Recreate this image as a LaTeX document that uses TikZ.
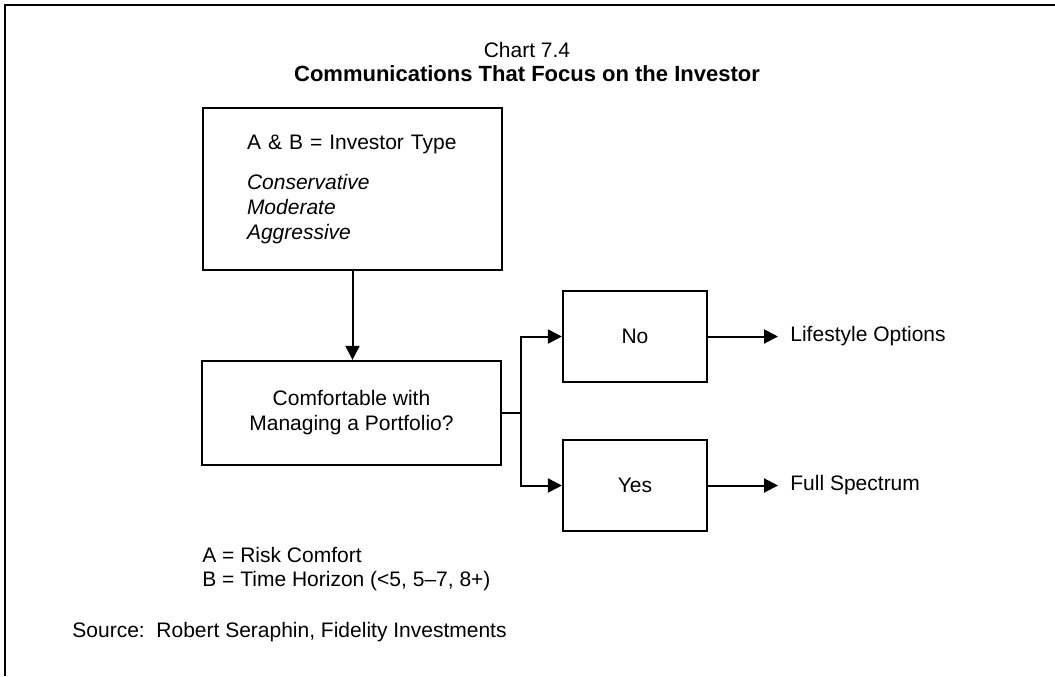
\documentclass[tikz,border=0pt]{standalone}
\usepackage{fontspec}
\setmainfont{Liberation Sans}
\usepackage{tikz}
\usetikzlibrary{arrows.meta, positioning, calc}

\begin{document}
\begin{tikzpicture}[
    x=0.5pt, y=-0.5pt,
    font=\fontsize{10.5}{12.5}\selectfont,
    box/.style={rectangle, draw=black, line width=1.1pt, fill=white, minimum width=149.5pt, align=center},
    choice/.style={rectangle, draw=black, line width=1.1pt, fill=white, minimum width=72pt, minimum height=45.5pt},
    arr/.style={-{Triangle[length=7pt, width=7pt]}, line width=1pt},
    link/.style={line width=1pt},
]

% Frame
\useasboundingbox (0,0) rectangle (1055,676);
\draw[line width=1.2pt] (5,676) -- (5,5) -- (1055,5);

% Title
\node (chart) at (527,50) {Chart 7.4};
\node[font=\fontsize{11}{13}\selectfont\bfseries] (title) at (527,74) {Communications That Focus on the Investor};

% Investor type
\node[box, minimum height=81pt, text width=105.5pt, inner xsep=22pt, align=left] (type) at (352.5,189) {A \& B = Investor Type\\[7.5pt]
\textit{Conservative}\\ \textit{Moderate}\\ \textit{Aggressive}};

% Question
\node[box, minimum height=52pt] (ask) at (351.5,413) {Comfortable with\\Managing a Portfolio?};

% Answers
\node[choice] (no) at (635,336.5) {No};
\node[choice] (yes) at (635,485.5) {Yes};

% Outcomes
\node[anchor=west, inner xsep=6pt] (life) at (778,336.5) {Lifestyle Options};
\node[anchor=west, inner xsep=6pt] (full) at (778,485.5) {Full Spectrum};

% Key
\node[anchor=west, align=left, inner sep=0pt, font=\fontsize{10.5}{12}\selectfont] (key) at (202,569) {A = Risk Comfort\\B = Time Horizon (<5, 5--7, 8+)};

% Source
\node[anchor=west, inner sep=0pt] (src) at (72,632) {Source:\ \ Robert Seraphin, Fidelity Investments};

% Edges
\coordinate (fork) at (521,413);
\draw[arr] (type.south) -- (type.south |- ask.north);
\draw[link] (ask.east) -- (fork);
\draw[arr] (fork) |- (no.west);
\draw[arr] (fork) |- (yes.west);
\draw[arr] (no.east) -- (life.west);
\draw[arr] (yes.east) -- (full.west);

\end{tikzpicture}
\end{document}
